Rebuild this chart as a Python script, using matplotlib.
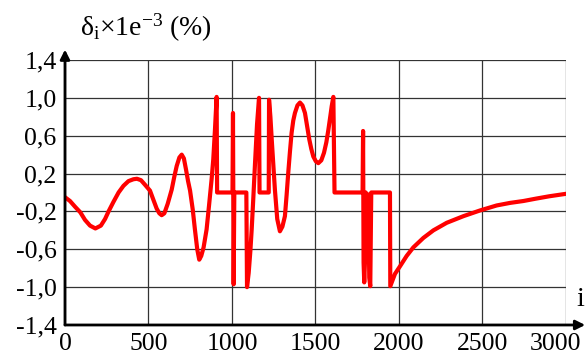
import matplotlib.pyplot as plt
import matplotlib.transforms as mtransforms
import numpy as np

plt.rcParams['font.family'] = 'Liberation Serif'
plt.rcParams['mathtext.fontset'] = 'custom'
plt.rcParams['mathtext.rm'] = 'Liberation Serif'
plt.rcParams['mathtext.it'] = 'Liberation Serif:italic'

# values
i_vals = [0, 30, 60, 92, 120, 150, 182, 215, 240, 261, 290, 321, 350, 380, 410, 431,
          455, 480, 509, 530, 549, 565, 579, 595, 615, 639, 655, 669, 685, 699, 712,
          725, 737, 749, 765, 778, 792, 804, 816, 830, 848, 863, 878, 888, 898, 908,
          911, 1003, 1006, 1010, 1014, 1086, 1090, 1100, 1110, 1118, 1128, 1138, 1150,
          1162, 1165, 1220, 1222, 1230, 1238, 1248, 1257, 1271, 1287, 1302, 1317, 1327,
          1337, 1347, 1357, 1367, 1377, 1392, 1407, 1422, 1437, 1450, 1463, 1475, 1487,
          1502, 1517, 1535, 1551, 1565, 1577, 1590, 1597, 1607, 1614, 1782, 1785, 1788,
          1792, 1797, 1801, 1806, 1812, 1816, 1822, 1828, 1834, 1946, 1948, 1976, 2006,
          2046, 2086, 2146, 2206, 2286, 2386, 2485, 2585, 2665, 2745, 2820, 2900, 3000]
delta_vals = [-0.05, -0.09, -0.15, -0.21, -0.29, -0.35, -0.38, -0.35, -0.28, -0.20, -0.10,
              0.00, 0.07, 0.12, 0.14, 0.145, 0.13, 0.08, 0.02, -0.08, -0.17, -0.22, -0.24,
              -0.22, -0.12, 0.03, 0.17, 0.28, 0.37, 0.40, 0.36, 0.24, 0.12, 0.02, -0.18,
              -0.39, -0.60, -0.71, -0.67, -0.58, -0.39, -0.13, 0.14, 0.35, 0.66, 1.01,
              0.0, 0.0, 0.84, -0.97, 0.0, 0.0, -1.0, -0.85, -0.62, -0.39, -0.05, 0.31, 0.72,
              1.0, 0.0, 0.0, 0.98, 0.80, 0.56, 0.28, 0.03, -0.28, -0.41, -0.36, -0.25, -0.03,
              0.21, 0.43, 0.63, 0.76, 0.84, 0.92, 0.95, 0.92, 0.84, 0.70, 0.56, 0.46, 0.38,
              0.33, 0.31, 0.34, 0.42, 0.53, 0.66, 0.82, 0.91, 1.01, 0.0, 0.0, 0.65, -0.74,
              -0.95, -0.7, 0.0, -0.63, -0.3, -0.02, -0.9, -0.99, 0.0, 0.0, -0.99, -0.86, -0.78,
              -0.67, -0.58, -0.48, -0.40, -0.32, -0.25, -0.19, -0.137, -0.11, -0.09, -0.065,
              -0.04, -0.014]

x_ticks = [0, 500, 1000, 1500, 2000, 2500, 3000]
y_ticks = [-1.4, -1.0, -0.6, -0.2, 0.2, 0.6, 1.0, 1.4]
y_labels = ['-1,4', '-1,0', '-0,6', '-0,2', '0,2', '0,6', '1,0', '1,4']

fig = plt.figure(figsize=(5.87, 3.56), dpi=100)
ax = fig.add_axes([0.1107, 0.0871, 0.8535, 0.7444])

ax.plot(i_vals, delta_vals, color='#ff0000', lw=3, solid_joinstyle='round', zorder=3)

ax.set_xlim(0, 3000)
ax.set_ylim(-1.4, 1.4)
ax.set_xticks(x_ticks)
ax.set_xticklabels([str(t) for t in x_ticks])
ax.set_yticks(y_ticks)
ax.set_yticklabels(y_labels)
ax.tick_params(length=0, labelsize=18.5, pad=6)
ax.grid(True, color='#333333', lw=0.9)
for s in ax.spines.values():
    s.set_visible(False)

# last x label sits a bit left so it stays inside the picture
last = ax.get_xticklabels()[-1]
last.set_transform(last.get_transform() +
                   mtransforms.ScaledTranslation(-10 / 100, 0, fig.dpi_scale_trans))

# axes drawn as arrows
ax.annotate('', xy=(0, 1.51), xytext=(0, -1.4), annotation_clip=False,
            arrowprops=dict(arrowstyle='-|>', color='black', lw=2, mutation_scale=14,
                            shrinkA=0, shrinkB=0))
ax.annotate('', xy=(3115, -1.4), xytext=(0, -1.4), annotation_clip=False,
            arrowprops=dict(arrowstyle='-|>', color='black', lw=2, mutation_scale=14,
                            shrinkA=0, shrinkB=0))

fig.text(80 / 587, 1 - 36 / 356, r'$\mathrm{\delta_i{\times}1e^{-3}\ (\%)}$',
         fontsize=20, ha='left', va='baseline')
ax.text(3065, -1.13, 'i', fontsize=20, ha='left', va='center', clip_on=False)

fig.savefig('out.png', dpi=100)
